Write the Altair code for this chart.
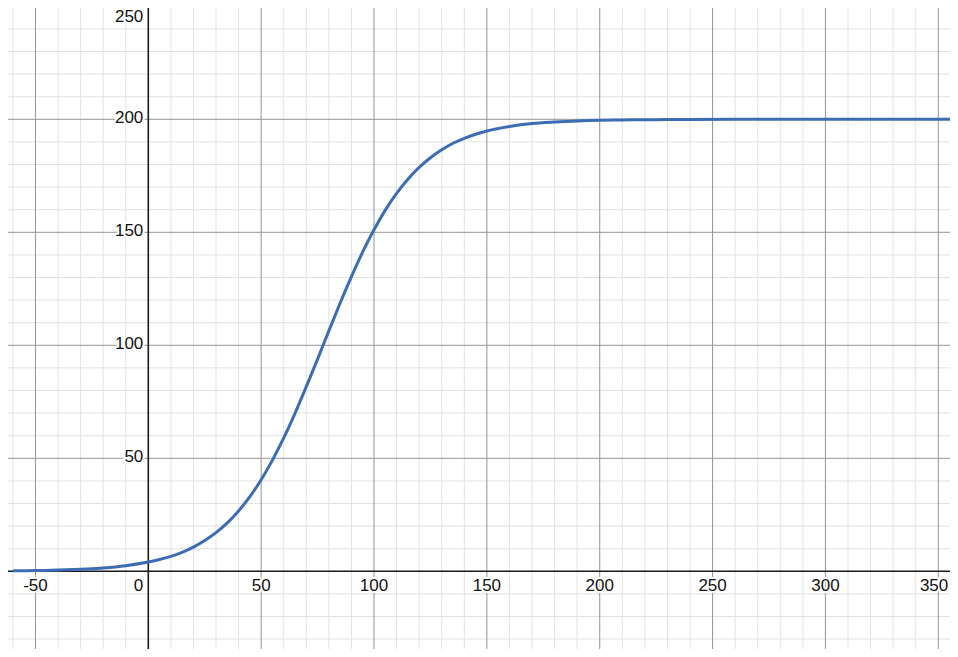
import altair as alt
import pandas as pd

# curve values
curve_x = [-60, -50, -40, -30, -20, -10, 0, 5, 10, 15, 20, 25, 30, 35, 40, 45,
           50, 55, 60, 65, 70, 75, 80, 85, 90, 95, 100, 105, 110, 115, 120,
           125, 130, 135, 140, 145, 150, 160, 170, 180, 190, 200, 210, 220,
           230, 240, 260, 280, 300, 320, 340, 360]
curve_y = [0.2, 0.3, 0.6, 0.9, 1.5, 2.5, 4.1, 5.2, 6.6, 8.4, 10.7, 13.6, 17.1,
           21.4, 26.7, 33.0, 40.5, 49.2, 59.0, 69.9, 81.7, 93.9, 106.4, 118.7,
           130.4, 141.3, 151.1, 159.8, 167.2, 173.5, 178.7, 183.0, 186.5,
           189.4, 191.6, 193.4, 194.8, 196.8, 198.1, 198.8, 199.3, 199.6,
           199.7, 199.8, 199.9, 199.9, 200.0, 200.0, 200.0, 200.0, 200.0, 200.0]

# grid and tick labels
minor_x = [v for v in range(-60, 360, 10) if v % 50 != 0]
minor_y = [v for v in range(-30, 250, 10) if v % 50 != 0]
major_x = [-50, 50, 100, 150, 200, 250, 300, 350]
major_y = [50, 100, 150, 200, 250]
x_labels = ["-50", "50", "100", "150", "200", "250", "300"]
edge_label = ["350"]
y_labels = ["50", "100", "150", "200"]
top_label = ["250"]

xs = alt.Scale(domain=[-62.16, 355.19], nice=False, zero=False)
ys = alt.Scale(domain=[-34.38, 249.25], nice=False, zero=False)

FONT = "Liberation Sans"


def vlines(vals, color, width):
    return alt.Chart(pd.DataFrame({"v": vals})).mark_rule(
        color=color, strokeWidth=width
    ).encode(x=alt.X("v:Q", scale=xs, axis=None))


def hlines(vals, color, width):
    return alt.Chart(pd.DataFrame({"v": vals})).mark_rule(
        color=color, strokeWidth=width
    ).encode(y=alt.Y("v:Q", scale=ys, axis=None))


def labels(df, **kw):
    enc = dict(
        x=alt.X("x:Q", scale=xs, axis=None),
        y=alt.Y("y:Q", scale=ys, axis=None),
        text="t:N",
    )
    halo = alt.Chart(df).mark_text(
        font=FONT, fontSize=17, stroke="white", strokeWidth=4,
        strokeJoin="round", **kw
    ).encode(**enc)
    txt = alt.Chart(df).mark_text(
        font=FONT, fontSize=17, color="#111", **kw
    ).encode(**enc)
    return halo + txt


xlab = pd.DataFrame({"x": major_x[:7], "y": [0] * 7, "t": x_labels})
edgelab = pd.DataFrame({"x": [350], "y": [0], "t": edge_label})
ylab = pd.DataFrame({"x": [0] * 4, "y": major_y[:4], "t": y_labels})
toplab = pd.DataFrame({"x": [0], "y": [249.25], "t": top_label})
zlab = pd.DataFrame({"x": [0], "y": [0], "t": ["0"]})

curve = alt.Chart(pd.DataFrame({"x": curve_x, "y": curve_y})).mark_line(
    color="#3c6db4", strokeWidth=3, interpolate="monotone", clip=True
).encode(
    x=alt.X("x:Q", scale=xs, axis=None),
    y=alt.Y("y:Q", scale=ys, axis=None),
)

chart = alt.layer(
    vlines(minor_x, "#e2e2e2", 1),
    hlines(minor_y, "#e2e2e2", 1),
    vlines(major_x, "#949494", 1),
    hlines(major_y, "#949494", 1),
    vlines([0], "#1a1a1a", 1.6),
    hlines([0], "#1a1a1a", 1.6),
    labels(xlab, align="center", baseline="alphabetic", dy=20),
    labels(edgelab, align="right", baseline="alphabetic", dx=10, dy=20),
    labels(ylab, align="right", baseline="alphabetic", dx=-5, dy=4),
    labels(toplab, align="right", baseline="top", dx=-5, dy=1),
    labels(zlab, align="right", baseline="alphabetic", dx=-5, dy=20),
    curve,
).properties(
    width=942, height=641, padding=0, autosize="none"
).configure_view(stroke=None)

chart.save("out.html", embed_options={"renderer": "svg", "actions": False})
